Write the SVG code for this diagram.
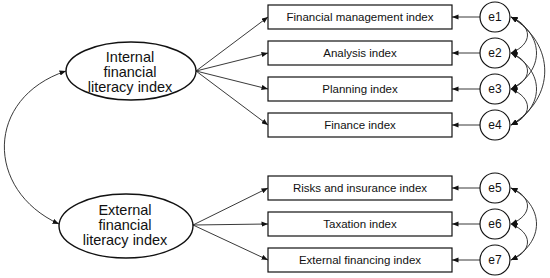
<svg xmlns="http://www.w3.org/2000/svg" width="550" height="278" viewBox="0 0 550 278">
<defs>
<marker id="ah" viewBox="0 0 10 8" refX="10" refY="4" markerWidth="6.5" markerHeight="5.2" markerUnits="userSpaceOnUse" orient="auto-start-reverse">
<path d="M0,0 L10,4 L0,8 z" fill="#111"/>
</marker>
<style>
.box{fill:#fff;stroke:#111;stroke-width:1.2}
.lat{fill:#fff;stroke:#111;stroke-width:1.4}
.err{fill:#fff;stroke:#111;stroke-width:1.2}
.t{font-family:"Liberation Sans",Arial,Helvetica,sans-serif;font-size:11.5px;fill:#111;text-anchor:middle}
.tl{font-family:"Liberation Sans",Arial,Helvetica,sans-serif;font-size:14.5px;fill:#111;text-anchor:middle}
.te{font-family:"Liberation Sans",Arial,Helvetica,sans-serif;font-size:12px;fill:#111;text-anchor:middle}
.c{fill:none;stroke:#222;stroke-width:0.9;marker-end:url(#ah)}
.cc{fill:none;stroke:#222;stroke-width:0.9;marker-start:url(#ah);marker-end:url(#ah)}
</style>
</defs>
<rect width="550" height="278" fill="#fff"/>
<g id="connectors">
<path class="c" d="M196,71 L268,17"/>
<path class="c" d="M196,71 L268,53"/>
<path class="c" d="M196,71 L268,89"/>
<path class="c" d="M196,71 L268,125"/>
<path class="c" d="M193,225 L268,188"/>
<path class="c" d="M193,225 L268,224"/>
<path class="c" d="M193,225 L268,260"/>
<path class="c" d="M480,17 L452,17"/>
<path class="c" d="M480,53 L452,53"/>
<path class="c" d="M480,89 L452,89"/>
<path class="c" d="M480,125 L452,125"/>
<path class="c" d="M480,188 L452,188"/>
<path class="c" d="M480,224 L452,224"/>
<path class="c" d="M480,260 L452,260"/>
<path class="cc" d="M66,71 C-15,98 -15,190 59,224"/>
<path class="cc" d="M511,17 C533,26 533,44 511,53"/>
<path class="cc" d="M511,17 C545,35 545,71 511,89"/>
<path class="cc" d="M511,17 C556,44 556,98 511,125"/>
<path class="cc" d="M511,53 C533,62 533,80 511,89"/>
<path class="cc" d="M511,53 C545,71 545,107 511,125"/>
<path class="cc" d="M511,89 C533,98 533,116 511,125"/>
<path class="cc" d="M511,188 C533,197 533,215 511,224"/>
<path class="cc" d="M511,188 C545,206 545,242 511,260"/>
<path class="cc" d="M511,224 C533,233 533,251 511,260"/>
</g>
<g id="internal">
<ellipse class="lat" cx="131" cy="71" rx="65" ry="29"/>
<text class="tl" x="130" y="62">Internal</text>
<text class="tl" x="130" y="77">financial</text>
<text class="tl" x="130" y="92">literacy index</text>
</g>
<g id="external">
<ellipse class="lat" cx="126" cy="226" rx="67" ry="32"/>
<text class="tl" x="125" y="215">External</text>
<text class="tl" x="125" y="230">financial</text>
<text class="tl" x="125" y="245">literacy index</text>
</g>
<g id="box1"><rect class="box" x="268" y="5" width="184" height="24"/><text class="t" x="360" y="21">Financial management index</text></g>
<g id="box2"><rect class="box" x="268" y="41" width="184" height="24"/><text class="t" x="360" y="57">Analysis index</text></g>
<g id="box3"><rect class="box" x="268" y="77" width="184" height="24"/><text class="t" x="360" y="93">Planning index</text></g>
<g id="box4"><rect class="box" x="268" y="113" width="184" height="24"/><text class="t" x="360" y="129">Finance index</text></g>
<g id="box5"><rect class="box" x="268" y="176" width="184" height="24"/><text class="t" x="360" y="192">Risks and insurance index</text></g>
<g id="box6"><rect class="box" x="268" y="212" width="184" height="24"/><text class="t" x="360" y="228">Taxation index</text></g>
<g id="box7"><rect class="box" x="268" y="248" width="184" height="24"/><text class="t" x="360" y="264">External financing index</text></g>
<g id="e1"><circle class="err" cx="495" cy="17" r="15"/><text class="te" x="495" y="21">e1</text></g>
<g id="e2"><circle class="err" cx="495" cy="53" r="15"/><text class="te" x="495" y="57">e2</text></g>
<g id="e3"><circle class="err" cx="495" cy="89" r="15"/><text class="te" x="495" y="93">e3</text></g>
<g id="e4"><circle class="err" cx="495" cy="125" r="15"/><text class="te" x="495" y="129">e4</text></g>
<g id="e5"><circle class="err" cx="495" cy="188" r="15"/><text class="te" x="495" y="192">e5</text></g>
<g id="e6"><circle class="err" cx="495" cy="224" r="15"/><text class="te" x="495" y="228">e6</text></g>
<g id="e7"><circle class="err" cx="495" cy="260" r="15"/><text class="te" x="495" y="264">e7</text></g>
</svg>
